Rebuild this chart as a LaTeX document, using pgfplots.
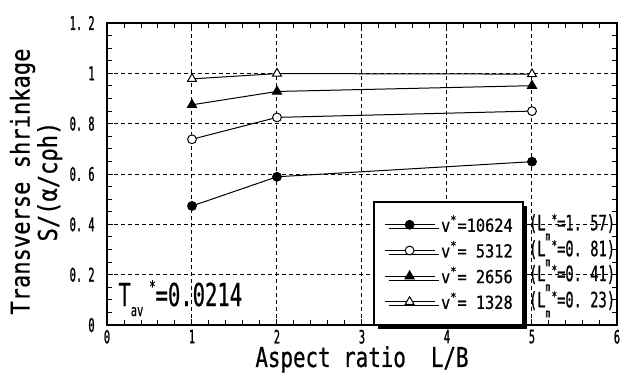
\documentclass[border=0pt]{standalone}
\usepackage{fontspec}
\setmainfont{DejaVu Sans Mono}
\newfontfamily\cf{DejaVu Sans Mono}[FakeStretch=0.55, FakeBold=1.2]
\newfontfamily\mf{DejaVu Sans Mono}[FakeStretch=0.65, FakeBold=0.6]
\newfontfamily\lf{DejaVu Sans Mono}[FakeStretch=0.85, FakeBold=0.6]
\newfontfamily\xf{DejaVu Sans Mono}[FakeStretch=0.76, FakeBold=0.6]
\usepackage{pgfplots}
\pgfplotsset{compat=1.18}
\usetikzlibrary{shadows}
\begin{document}
\begin{tikzpicture}
\path[use as bounding box] (-53.5pt,-23.5pt) rectangle (256.5pt,162.5pt);
\begin{axis}[
  scale only axis, width=255pt, height=151pt,
  xmin=0, xmax=6, ymin=0, ymax=1.2,
  xtick={0,1,2,3,4,5,6}, xticklabels={0,1,2,3,4,5,6},
  ytick={0,0.2,0.4,0.6,0.8,1,1.2},
  yticklabels={0,0.~2,0.~4,0.~6,0.~8,1,1.~2},
  minor x tick num=4, minor y tick num=3,
  xtick pos=both, ytick pos=both,
  tick align=inside,
  major tick length=3pt, minor tick length=2.5pt,
  tick style={black, line width=0.5pt},
  axis line style={line width=0.9pt},
  grid=major,
  major grid style={black, line width=0.5pt, dash pattern=on 2pt off 1.5pt},
  xticklabel style={font=\cf\fontsize{9.2}{9}\selectfont, inner sep=0pt, yshift=-2.2pt},
  yticklabel style={font=\cf\fontsize{9.4}{9}\selectfont, inner sep=0pt, xshift=-6pt},
  xlabel={Aspect ratio~~L/B},
  xlabel style={at={(axis description cs:0.5,-0.139)}, anchor=base, inner sep=0pt, font=\xf\fontsize{13.7}{14}\selectfont},
  ylabel={Transverse shrinkage\\S/(α/cρh)},
  ylabel style={at={(axis description cs:-0.139,0.475)}, anchor=center, align=center, font=\lf\fontsize{13}{12}\selectfont},
  every axis plot/.append style={black, line width=0.5pt},
  legend image code/.code={\draw[mark repeat=2,mark phase=2,#1] plot coordinates {(0pt,0pt) (12.5pt,0pt) (25pt,0pt)};},
  legend cell align=left,
  legend style={at={(0.522,0.411)}, anchor=north west, draw=black, line width=0.9pt, fill=white,
    font=\lf\fontsize{9}{9}\selectfont, inner xsep=5pt, inner ysep=8pt, row sep=5.85pt, column sep=3pt,
    nodes={inner sep=0pt, text height=7pt, text depth=0pt},
    general shadow={fill=black, shadow xshift=2pt, shadow yshift=-2pt}},
]
\addplot[mark=*, mark size=2.2pt, mark options={fill=black, solid}] coordinates {(1,0.473) (2,0.589) (5,0.649)};
\addlegendentry{v\textsuperscript{*}=10624}
\addplot[mark=*, mark size=2.2pt, mark options={fill=white, solid}] coordinates {(1,0.738) (2,0.825) (5,0.850)};
\addlegendentry{v\textsuperscript{*}=~5312}
\addplot[mark=triangle*, mark size=2.6pt, mark options={fill=black, solid}] coordinates {(1,0.875) (2,0.928) (5,0.951)};
\addlegendentry{v\textsuperscript{*}=~2656}
\addplot[mark=triangle*, mark size=2.6pt, mark options={fill=white, solid}] coordinates {(1,0.978) (2,0.999) (5,0.997)};
\addlegendentry{v\textsuperscript{*}=~1328}
\node[anchor=base west, inner sep=0pt, font=\mf\fontsize{15.8}{16}\selectfont] at (axis cs:0.13,0.0755)
  {T\raisebox{-5pt}{\fontsize{8}{8}\selectfont av}\hspace{3pt}\raisebox{7pt}{\fontsize{8}{8}\selectfont *}=0.0214};
\node[anchor=west, inner sep=0pt, font=\mf\fontsize{10.6}{10}\selectfont] at (axis cs:4.96,0.389)
  {(L\rlap{\raisebox{-5pt}{\fontsize{6}{6}\selectfont m}}\hspace{3pt}\raisebox{3pt}{\fontsize{7}{7}\selectfont *}=1.~57)};
\node[anchor=west, inner sep=0pt, font=\mf\fontsize{10.6}{10}\selectfont] at (axis cs:4.96,0.286)
  {(L\rlap{\raisebox{-5pt}{\fontsize{6}{6}\selectfont m}}\hspace{3pt}\raisebox{3pt}{\fontsize{7}{7}\selectfont *}=0.~81)};
\node[anchor=west, inner sep=0pt, font=\mf\fontsize{10.6}{10}\selectfont] at (axis cs:4.96,0.187)
  {(L\rlap{\raisebox{-5pt}{\fontsize{6}{6}\selectfont m}}\hspace{3pt}\raisebox{3pt}{\fontsize{7}{7}\selectfont *}=0.~41)};
\node[anchor=west, inner sep=0pt, font=\mf\fontsize{10.6}{10}\selectfont] at (axis cs:4.96,0.083)
  {(L\rlap{\raisebox{-5pt}{\fontsize{6}{6}\selectfont m}}\hspace{3pt}\raisebox{3pt}{\fontsize{7}{7}\selectfont *}=0.~23)};
\end{axis}
\end{tikzpicture}
\end{document}
